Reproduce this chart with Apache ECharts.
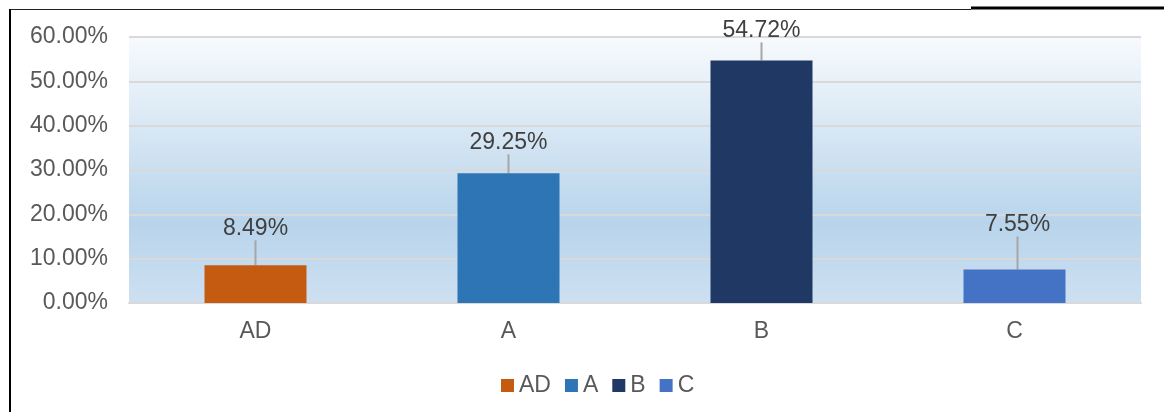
<!DOCTYPE html>
<html>
<head>
<meta charset="utf-8">
<script src="https://cdn.jsdelivr.net/npm/echarts@6/dist/echarts.min.js"></script>
<style>
html,body{margin:0;padding:0;background:#fff;}
#chart{width:1164px;height:412px;}
</style>
</head>
<body>
<div id="chart"></div>
<script>
// 各类别占比
var categories = ['AD', 'A', 'B', 'C'];
var values = [8.49, 29.25, 54.72, 7.55];
var colors = ['#c55a11', '#2e75b6', '#203864', '#4472c4'];
var yTicks = { min: 0, max: 60, interval: 10 };

// 数据标签手动挪动的距离
var labelShift = [[0, -21], [0, -15], [0, -14], [3, -29]];

var chart = echarts.init(document.getElementById('chart'));

var series = categories.map(function (name, i) {
    var d = categories.map(function (c, j) { return j === i ? values[i] : '-'; });
    return {
        name: name,
        type: 'bar',
        stack: 'all',
        barWidth: 102,
        data: d,
        itemStyle: { color: colors[i] },
        label: {
            show: true,
            position: 'top',
            distance: 4,
            color: '#404040',
            fontSize: 23,
            fontFamily: 'Liberation Sans',
            formatter: function (p) { return p.value.toFixed(2) + '%'; }
        },
        labelLayout: { dx: labelShift[i][0], dy: labelShift[i][1] },
        labelLine: { show: true, length2: 0, lineStyle: { color: '#a6a6a6', width: 2 } }
    };
});

var option = {
    animation: false,
    textStyle: { fontFamily: 'Liberation Sans' },
    grid: {
        left: 129, right: 23, top: 37, bottom: 109,
        show: true,
        borderWidth: 0,
        backgroundColor: new echarts.graphic.LinearGradient(0, 0, 0, 1, [
            { offset: 0, color: '#f7fafd' },
            { offset: 0.7, color: '#b8d4eb' },
            { offset: 1, color: '#cde0f1' }
        ])
    },
    legend: {
        top: 369,
        left: 496,
        itemWidth: 13,
        itemHeight: 13,
        itemGap: 14,
        icon: 'rect',
        textStyle: { fontSize: 23, color: '#595959' },
        data: categories
    },
    xAxis: {
        type: 'category',
        data: categories,
        axisTick: { show: false },
        axisLine: { lineStyle: { color: '#d9d9d9', width: 2 } },
        axisLabel: { fontSize: 23, color: '#595959', margin: 17 }
    },
    yAxis: {
        type: 'value',
        min: yTicks.min,
        max: yTicks.max,
        interval: yTicks.interval,
        axisLine: { show: false },
        axisTick: { show: false },
        splitLine: { lineStyle: { color: '#d9d9d9', width: 2 } },
        axisLabel: {
            fontSize: 23, color: '#595959', margin: 21,
            formatter: function (v) { return v.toFixed(2) + '%'; }
        }
    },
    graphic: [
        { type: 'line', shape: { x1: 9, y1: 9.5, x2: 971, y2: 9.5 }, style: { stroke: '#222', lineWidth: 1 } },
        { type: 'line', shape: { x1: 971, y1: 8, x2: 1164, y2: 8 }, style: { stroke: '#000', lineWidth: 3 } },
        { type: 'line', shape: { x1: 10, y1: 9, x2: 10, y2: 412 }, style: { stroke: '#000', lineWidth: 2 } }
    ],
    series: series
};
chart.setOption(option);
</script>
</body>
</html>
